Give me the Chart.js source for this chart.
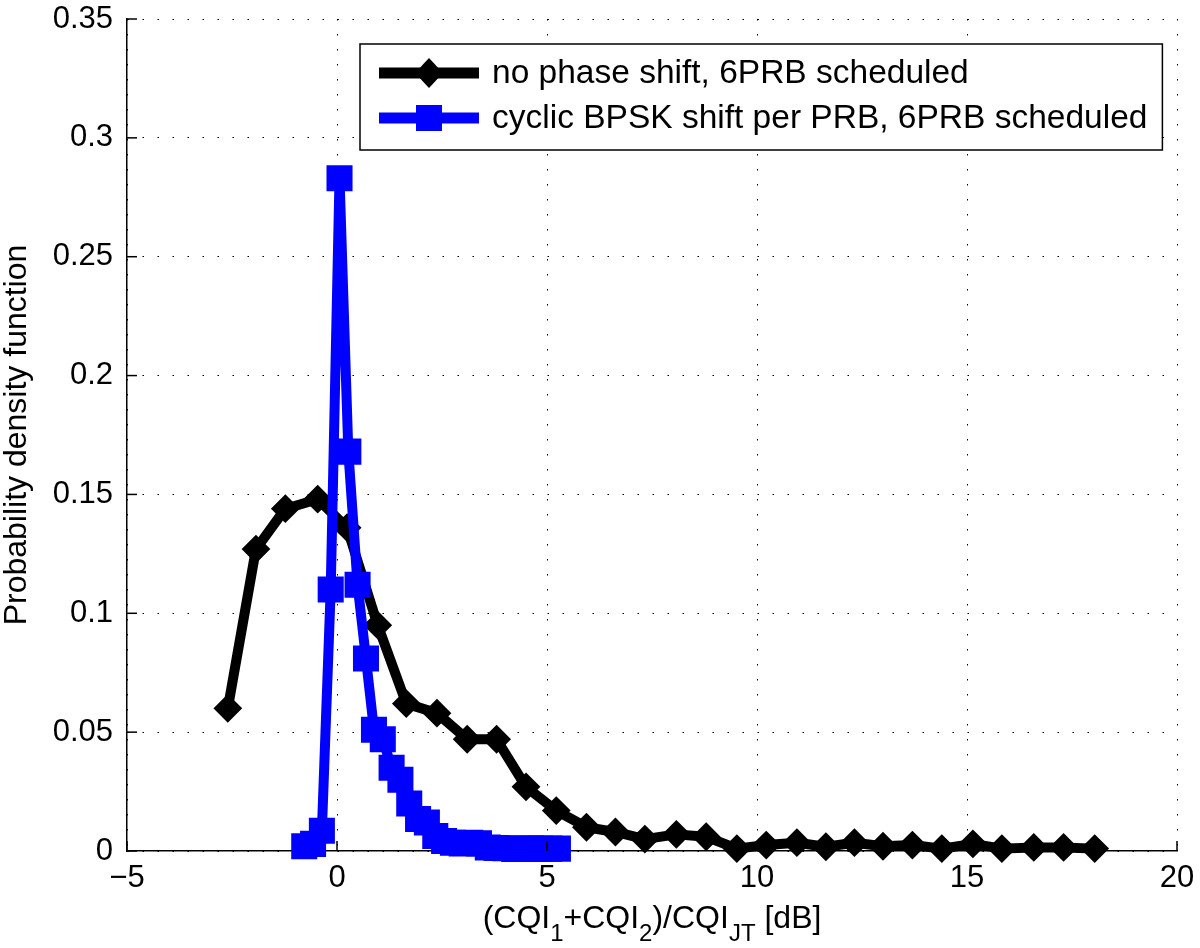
<!DOCTYPE html>
<html>
<head>
<meta charset="utf-8">
<script src="https://cdn.jsdelivr.net/npm/chart.js@4.4.1/dist/chart.umd.min.js"></script>
<style>
  html, body { margin: 0; padding: 0; background: #fff; }
  #wrap { width: 1200px; height: 948px; }
</style>
</head>
<body>
<div id="wrap"><canvas id="myChart" width="1200" height="948"></canvas></div>
<script>
// no phase shift (black diamonds)
var blackX = [-2.6, -1.93, -1.23, -0.46, 0.24, 0.97, 1.65, 2.38, 3.1, 3.8, 4.5, 5.22, 5.94, 6.63, 7.33,
              8.08, 8.79, 9.52, 10.22, 10.95, 11.64, 12.32, 13.0, 13.7, 14.4, 15.14, 15.83, 16.59, 17.3, 18.04];
var blackY = [0.060, 0.127, 0.144, 0.148, 0.136, 0.095, 0.062, 0.058, 0.047, 0.047, 0.027, 0.017, 0.010, 0.008, 0.005,
              0.007, 0.006, 0.001, 0.0025, 0.0035, 0.0018, 0.0035, 0.002, 0.0025, 0.001, 0.003, 0.001, 0.0015, 0.0015, 0.001];

// cyclic BPSK shift (blue squares)
var blueX = [-0.78, -0.57, -0.36, -0.15, 0.06, 0.27, 0.49, 0.69, 0.88, 1.09, 1.30, 1.51, 1.72, 1.93, 2.14,
             2.34, 2.55, 2.76, 2.97, 3.17, 3.38, 3.59, 3.80, 4.01, 4.22, 4.42, 4.63, 4.84, 5.05, 5.26];
var blueY = [0.002, 0.003, 0.0085, 0.110, 0.283, 0.168, 0.112, 0.081, 0.051, 0.047, 0.035, 0.030, 0.020, 0.0135, 0.012,
             0.0063, 0.0042, 0.0035, 0.0032, 0.0035, 0.0032, 0.0015, 0.0013, 0.0012, 0.0008, 0.001, 0.0012, 0.0009, 0.001, 0.001];

var seriesNames = ["no phase shift, 6PRB scheduled", "cyclic BPSK shift per PRB, 6PRB scheduled"];

var xTicks = [-5, 0, 5, 10, 15, 20];
var xTickLabels = ["\u22125", "0", "5", "10", "15", "20"];
var yTicks = [0, 0.05, 0.1, 0.15, 0.2, 0.25, 0.3, 0.35];
var yTickLabels = ["0", "0.05", "0.1", "0.15", "0.2", "0.25", "0.3", "0.35"];

var FONT = "'Liberation Sans', Arial, Helvetica, sans-serif";

function toPoints(xs, ys) {
  var pts = [];
  for (var i = 0; i < xs.length; i++) pts.push({x: xs[i], y: ys[i]});
  return pts;
}

function drawSubText(ctx, parts, cx, y, size, subSize, subDrop) {
  var total = 0;
  parts.forEach(function(p) {
    ctx.font = (p[1] ? subSize : size) + "px " + FONT;
    total += ctx.measureText(p[0]).width;
  });
  var x = cx - total / 2;
  ctx.textAlign = "left";
  ctx.textBaseline = "alphabetic";
  parts.forEach(function(p) {
    ctx.font = (p[1] ? subSize : size) + "px " + FONT;
    ctx.fillText(p[0], x, p[1] ? y + subDrop : y);
    x += ctx.measureText(p[0]).width;
  });
}

var decor = {
  id: 'decor',
  afterDraw: function(chart) {
    var ctx = chart.ctx;
    var a = chart.chartArea;
    var xs = chart.scales.x, ys = chart.scales.y;
    ctx.save();
    ctx.strokeStyle = "#000";
    ctx.fillStyle = "#000";
    ctx.lineWidth = 1.5;
    // inward ticks
    xTicks.forEach(function(v) {
      var px = xs.getPixelForValue(v);
      ctx.beginPath(); ctx.moveTo(px, a.bottom); ctx.lineTo(px, a.bottom - 10); ctx.stroke();
    });
    yTicks.forEach(function(v) {
      var py = ys.getPixelForValue(v);
      ctx.beginPath(); ctx.moveTo(a.left, py); ctx.lineTo(a.left + 10, py); ctx.stroke();
    });

    // x title with subscripts
    drawSubText(ctx, [["(CQI", 0], ["1", 1], ["+CQI", 0], ["2", 1], [")/CQI", 0], ["JT", 1], [" [dB]", 0]],
                (a.left + a.right) / 2, 928, 32, 24, 13);

    // y title
    ctx.save();
    ctx.translate(26, (a.top + a.bottom) / 2);
    ctx.rotate(-Math.PI / 2);
    ctx.font = "32px " + FONT;
    ctx.textAlign = "center";
    ctx.textBaseline = "alphabetic";
    ctx.fillText("Probability density function", 0, 0);
    ctx.restore();

    // legend
    var bx = 360, by = 44, bh = 106, tx = 492;
    ctx.font = "33.5px " + FONT;
    var tw = 0;
    seriesNames.forEach(function(n) { tw = Math.max(tw, ctx.measureText(n).width); });
    var bw = tx - bx + tw + 15;
    ctx.fillStyle = "#fff";
    ctx.fillRect(bx, by, bw, bh);
    ctx.lineWidth = 1.5;
    ctx.strokeStyle = "#000";
    ctx.strokeRect(bx, by, bw, bh);
    var rows = [73, 118];
    chart.data.datasets.forEach(function(ds) {
      var ry = rows[ds.legendRow];
      ctx.strokeStyle = ds.borderColor;
      ctx.fillStyle = ds.borderColor;
      ctx.lineWidth = 11;
      ctx.beginPath(); ctx.moveTo(379, ry); ctx.lineTo(479, ry); ctx.stroke();
      ctx.beginPath();
      if (ds.pointStyle === 'rectRot') {
        ctx.moveTo(429 - 14, ry); ctx.lineTo(429, ry - 15); ctx.lineTo(429 + 14, ry); ctx.lineTo(429, ry + 15);
        ctx.closePath();
      } else {
        ctx.rect(429 - 13, ry - 13, 26, 26);
      }
      ctx.fill();
      ctx.fillStyle = "#000";
      ctx.font = "33.5px " + FONT;
      ctx.textAlign = "left";
      ctx.textBaseline = "middle";
      ctx.fillText(ds.label, tx, ry + 1);
    });
    ctx.restore();
  }
};

var ctx = document.getElementById('myChart').getContext('2d');
var myChart = new Chart(ctx, {
  type: 'scatter',
  data: {
    datasets: [{
      label: seriesNames[1],
      legendRow: 1,
      data: toPoints(blueX, blueY),
      showLine: true,
      borderColor: "#0000ff",
      backgroundColor: "#0000ff",
      borderWidth: 10,
      borderJoinStyle: 'round',
      pointStyle: 'rect',
      pointRadius: 17,
      pointBorderWidth: 2,
      pointBorderColor: "#0000ff",
      pointBackgroundColor: "#0000ff",
      clip: false,
      order: 0
    }, {
      label: seriesNames[0],
      legendRow: 0,
      data: toPoints(blackX, blackY),
      showLine: true,
      borderColor: "#000000",
      backgroundColor: "#000000",
      borderWidth: 10,
      borderJoinStyle: 'round',
      pointStyle: 'rectRot',
      pointRadius: 13,
      pointBorderWidth: 2,
      pointBorderColor: "#000000",
      pointBackgroundColor: "#000000",
      clip: false,
      order: 1
    }]
  },
  options: {
    responsive: false,
    animation: false,
    devicePixelRatio: 1,
    layout: {padding: {top: 16, right: 23, left: 0, bottom: 0}},
    plugins: {legend: {display: false}, tooltip: {enabled: false}},
    scales: {
      x: {
        type: 'linear',
        min: -5, max: 20,
        afterBuildTicks: function(s) { s.ticks = xTicks.map(function(v) { return {value: v}; }); },
        afterFit: function(s) { s.height = 97; s.paddingLeft = 0; s.paddingRight = 0; },
        ticks: {
          padding: 9,
          color: "#000",
          font: {family: FONT, size: 31},
          maxRotation: 0,
          callback: function(v) { return xTickLabels[xTicks.indexOf(v)]; }
        },
        grid: {color: "#000", lineWidth: 1, drawTicks: false},
        border: {display: true, color: "#000", width: 1.5, dash: [1.5, 13.5]}
      },
      y: {
        type: 'linear',
        min: 0, max: 0.35,
        afterBuildTicks: function(s) { s.ticks = yTicks.map(function(v) { return {value: v}; }); },
        afterFit: function(s) { s.width = 127; s.paddingTop = 0; s.paddingBottom = 0; },
        ticks: {
          padding: 14,
          color: "#000",
          font: {family: FONT, size: 31},
          callback: function(v) { return yTickLabels[yTicks.indexOf(v)]; }
        },
        grid: {color: "#000", lineWidth: 1, drawTicks: false},
        border: {display: true, color: "#000", width: 1.5, dash: [1.5, 13.5]}
      }
    }
  },
  plugins: [decor]
});
</script>
</body>
</html>
